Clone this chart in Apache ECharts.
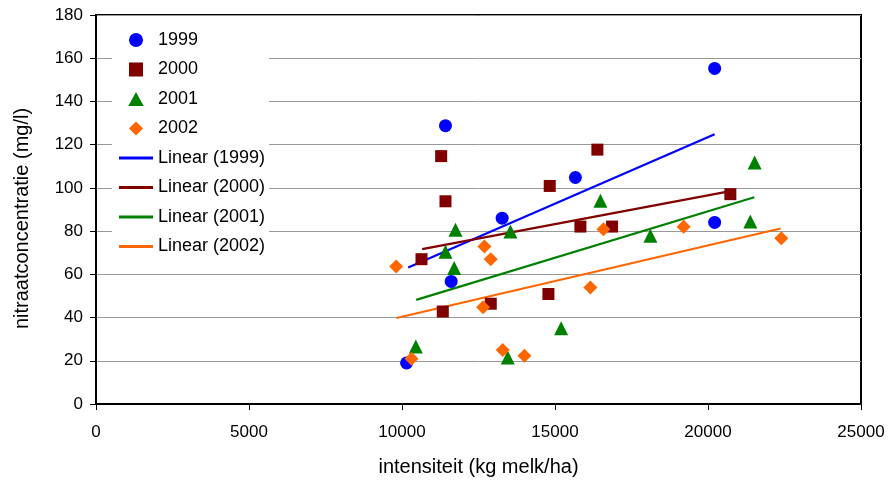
<!DOCTYPE html>
<html>
<head>
<meta charset="utf-8">
<script src="https://cdn.jsdelivr.net/npm/echarts@6/dist/echarts.min.js"></script>
<style>
html,body{margin:0;padding:0;background:#fff;}
#c{width:892px;height:482px;}
</style>
</head>
<body>
<div id="c"></div>
<script>
// Scatter data: [intensiteit, nitraatconcentratie]
var s1999 = [[10150,19],[11607,56.7],[11421,128.8],[13273,86],[15667,104.8],[20217,155.3],[20217,84]];
var s2000 = [[10637,67],[11333,42.8],[11280,114.7],[11421,93.8],[12901,46.4],[14828,100.9],[14785,50.9],[15830,82.1],[16385,117.7],[16865,82.1],[20730,97.1]];
var s2001 = [[10452,26.6],[11421,70.5],[11748,80.6],[11705,62.9],[13456,21.5],[13544,79.8],[15200,35.1],[16484,94],[18117,77.8],[21383,84.4],[21523,111.7]];
var s2002 = [[9811,63.6],[10311,20.9],[12695,72.9],[12901,67],[12652,44.8],[13293,25],[14001,22.3],[16157,53.9],[16582,80.9],[19204,82],[22395,76.7]];
// Trendline endpoints
var t1999 = [[10203,63.2],[20217,124.8]];
var t2000 = [[10660,71.7],[20730,98.5]];
var t2001 = [[10464,48.2],[21513,95.7]];
var t2002 = [[9821,39.8],[22372,81.2]];
var names = ['1999','2000','2001','2002','Linear (1999)','Linear (2000)','Linear (2001)','Linear (2002)'];
var colors = ['#0000FF','#800000','#008000','#FF6600'];

var FONT = 'Liberation Sans, Arial, sans-serif';
var LINE_ICON = 'path://M0,0L34,0L34,3L0,3Z';
var SQUARE_ICON = 'path://M0,0L10,0L10,10L0,10Z';
var TRI_ICON = 'path://M5.5,0L11,10L0,10Z';
var DIAMOND_ICON = 'path://M5,0L10,5L5,10L0,5Z';
var chart = echarts.init(document.getElementById('c'));
function sc(name, data, color, symbol, size) {
  return {name:name, type:'scatter', data:data, symbol:symbol, symbolSize:size,
    itemStyle:{color:color, opacity:1}, z:3};
}
function ln(name, data, color) {
  return {name:name, type:'line', data:data, symbol:'none', showSymbol:false,
    lineStyle:{color:color, width:2.2}, itemStyle:{color:color}, z:2, silent:true};
}
var legendIcons = ['circle',SQUARE_ICON,TRI_ICON,DIAMOND_ICON,LINE_ICON,LINE_ICON,LINE_ICON,LINE_ICON];
chart.setOption({
  animation:false,
  textStyle:{fontFamily:FONT},
  grid:{left:96, right:31, top:15, bottom:77, show:true, borderColor:'#000', borderWidth:2, backgroundColor:'transparent'},
  legend:{
    data:names.map(function(n,i){return {name:n, icon:legendIcons[i]};}),
    orient:'vertical', left:112, top:21,
    backgroundColor:'#fff', padding:[10,4,10,7],
    itemWidth:34, itemHeight:14, itemGap:11.5,
    symbolKeepAspect:true,
    textStyle:{fontFamily:FONT, fontSize:18, color:'#000'},
    selectedMode:false
  },
  xAxis:{
    type:'value', min:0, max:25000, interval:5000,
    name:'intensiteit (kg melk/ha)', nameLocation:'middle', nameGap:53,
    nameTextStyle:{fontFamily:FONT, fontSize:20, color:'#000'},
    axisLine:{show:true, lineStyle:{color:'#000', width:2}},
    axisTick:{show:true, length:6, lineStyle:{color:'#000', width:1}},
    axisLabel:{fontFamily:FONT, fontSize:17, color:'#000', margin:20, formatter:function(v){return String(v);}},
    splitLine:{show:false}
  },
  yAxis:{
    type:'value', min:0, max:180, interval:20,
    name:'nitraatconcentratie (mg/l)', nameLocation:'middle', nameGap:64,
    nameTextStyle:{fontFamily:FONT, fontSize:20, color:'#000', padding:[0,18,0,0]},
    axisLine:{show:true, lineStyle:{color:'#000', width:2}},
    axisTick:{show:true, length:6, lineStyle:{color:'#000', width:1}},
    axisLabel:{fontFamily:FONT, fontSize:17, color:'#000', margin:13},
    splitLine:{show:true, lineStyle:{color:'#999', width:1}}
  },
  series:[
    ln(names[4], t1999, colors[0]),
    ln(names[5], t2000, colors[1]),
    ln(names[6], t2001, colors[2]),
    ln(names[7], t2002, colors[3]),
    sc(names[0], s1999, colors[0], 'circle', 13),
    sc(names[1], s2000, colors[1], 'rect', 12),
    sc(names[2], s2001, colors[2], 'triangle', 14),
    sc(names[3], s2002, colors[3], 'diamond', 14)
  ]
});
</script>
</body>
</html>
